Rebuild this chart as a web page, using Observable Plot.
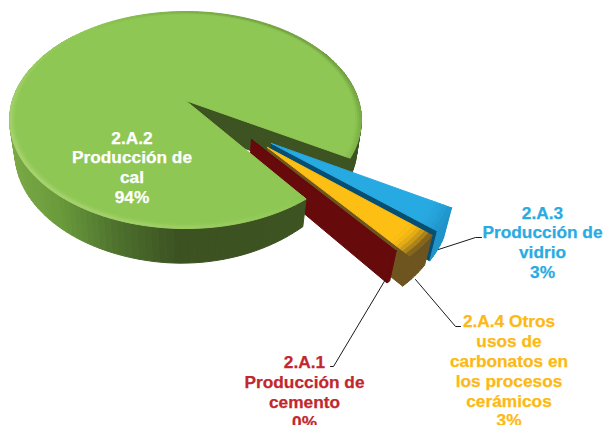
<!DOCTYPE html>
<html><head><meta charset="utf-8">
<style>html,body{margin:0;padding:0;background:#fff}svg{display:block}</style>
<script src="https://cdn.jsdelivr.net/npm/d3@7"></script>
<script src="https://cdn.jsdelivr.net/npm/@observablehq/plot@0.6"></script>
</head><body><div id="chart"></div>
<script>
// Data
const categories = ["2.A.3 Producción de vidrio", "2.A.4 Otros usos", "2.A.1 Producción de cemento", "2.A.2 Producción de cal"];
const shares = [3.1, 3.1, 0.3, 93.5];
const labelTexts = ["2.A.3\nProducción de\nvidrio\n3%", "2.A.4 Otros\nusos de\ncarbonatos en\nlos procesos\ncerámicos\n3%", "2.A.1\nProducción de\ncemento\n0%", "2.A.2\nProducción de\ncal\n94%"];
const labelColors = ["#29abe2", "#fdb913", "#c1272d", "#ffffff"];
// Styles and layout
const topColors = ["#27a9e1", "#fdbf13", "#660a0c", "#8ec753"];
const wallColors = ["#1f93c9", "#6e5520", "#660a0c", "#3d5322"];
const faceColors = ["#064e72", "#6e5520", "#660a0c", "#3d5322"];
const explode = [[0.463, 0.381], [0.439, 0.414], [0.357, 0.348], [0, 0]];
const sliceRadius = [0.965, 0.955, 1, 1];
const labelX = [542, 508.5, 304, 131.5];
const labelY = [241.5, 370, 391, 166.5];
const leaderX = [[438, 475, 481], [415, 455, 460], [385, 333, 330]];
const leaderY = [[249, 237, 237], [279, 326, 326], [279, 366, 366]];
const startAngle = 30;
const sliceDepth = 0.85;

// Perspective view of the pie disc
const x0 = 185, y0 = 100, a = 173, b = 105, c = 33.5, k = 0.18, m = 0.03;
const rad = Math.PI / 180;
let rimR = 1;
function proj(u, v, z) {
  const w = 1 - k * v + m * z;
  return {x: x0 + a * u / w, y: y0 + (b * v + c * z) / w};
}
function rim(o, ang, r, z) {
  return proj(o[0] + rimR * r * Math.cos(ang * rad), o[1] + rimR * r * Math.sin(ang * rad), z);
}
const rows = [];
let pid = 0;
function poly(pts, col) {
  const id = pid++;
  for (const p of [...pts, pts[0]]) rows.push({id, x: p.x, y: p.y, c: col});
}
function sweep(a0, a1, step) {
  const n = Math.max(1, Math.ceil(Math.abs(a1 - a0) / step));
  return d3.range(n + 1).map(i => a0 + (a1 - a0) * i / n);
}
function wall(o, a0, a1, colorFn, depth) {
  const A = sweep(a0, a1, 2);
  for (let i = 0; i < A.length - 1; i++) {
    const p = rim(o, A[i], 1, 0), q = rim(o, A[i + 1], 1, 0);
    poly([p, q, rim(o, A[i + 1], 1, depth(A[i + 1])), rim(o, A[i], 1, depth(A[i]))], colorFn(p.x, A[i]));
  }
}
function face(o, ang, col, z) {
  poly([proj(o[0], o[1], 0), rim(o, ang, 1, 0), rim(o, ang, 1, z), proj(o[0], o[1], z)], col);
}
function topFace(o, a0, a1, col, inner) {
  poly([proj(o[0], o[1], 0), ...sweep(a0, a1, 1.5).map(t => rim(o, t, inner, 0))], col);
}
function bevel(o, a0, a1, r0, r1, layers, colorFn) {
  const A = sweep(a0, a1, 2);
  for (let l = 0; l < layers; l++) {
    const ra = r0 + (r1 - r0) * l / layers, rb = r0 + (r1 - r0) * (l + 1) / layers;
    for (let i = 0; i < A.length - 1; i++) {
      poly([rim(o, A[i], ra, 0), rim(o, A[i + 1], ra, 0), rim(o, A[i + 1], rb, 0), rim(o, A[i], rb, 0)],
        colorFn((l + 0.5) / layers, A[i]));
    }
  }
}
// slice angles from the shares
const total = d3.sum(shares);
let cum = startAngle;
const angles = shares.map(s => { const a0 = cum; cum += s / total * 360; return [a0, cum]; });

const greenWall = d3.scaleLinear().domain([10, 60, 120, 180, 360]).range(["#7aa845", "#699a3b", "#4d702d", "#3c5221", "#3d5322"]);
const GI = 3;
// front wall tapers a little towards the cut
const greenDepth = ang => {
  const t = Math.max(0, Math.min(1, (100 - ang) / 46));
  return 1 - 0.2 * t * t;
};
// right-hand green wall and the cut face behind the exploded slices
wall([0, 0], angles[GI][1] - 60, angles[GI][1], x => greenWall(x), () => 0.8);
face([0, 0], angles[GI][1], faceColors[GI], 0.8);
// exploded slices
for (const i of [0, 1, 2]) {
  const o = explode[i], [a0, a1] = angles[i];
  rimR = sliceRadius[i];
  face(o, a1, faceColors[i], sliceDepth);
  wall(o, a0, a1, () => wallColors[i], () => sliceDepth);
  if (i !== 2) {
    topFace(o, a0, a1, topColors[i], 0.88);
    const mix = d3.interpolateRgb(topColors[i], wallColors[i]);
    bevel(o, a0, a1, 0.88, 1, 6, t => mix(t * t));
  } else {
    topFace(o, a0, a1, topColors[i], 1);
  }
}
rimR = sliceRadius[GI];
// green body in front
wall([0, 0], angles[GI][0], angles[GI][0] + 170, x => greenWall(x), greenDepth);
topFace([0, 0], angles[GI][0], angles[GI][1], topColors[GI], 0.97);
const lightRim = d3.interpolateRgb(topColors[GI], "#a9d472");
const darkRim = d3.interpolateRgb(topColors[GI], "#6f9c3e");
bevel([0, 0], angles[GI][0], angles[GI][1], 0.97, 1, 3, (t, ang) => {
  const s = Math.cos((ang - 140) * rad); // facing the light: lower left
  return s > 0 ? lightRim(t * s) : darkRim(t * -s);
});

const leaders = leaderX.flatMap((xs, i) => xs.map((x, j) => ({i, x, y: leaderY[i][j]})));
const labels = labelTexts.map((text, i) => ({text, x: labelX[i], y: labelY[i], fill: labelColors[i]}));

const chart = Plot.plot({
  width: 603, height: 425, margin: 0,
  x: {domain: [0, 603], range: [0, 603], axis: null},
  y: {domain: [0, 425], range: [0, 425], axis: null},
  color: {type: "identity"},
  marks: [
    Plot.line(rows, {x: "x", y: "y", z: "id", fill: "c", stroke: "c", strokeWidth: 1}),
    Plot.line(leaders, {x: "x", y: "y", z: "i", stroke: "#1a1a1a", strokeWidth: 1}),
    Plot.text(labels, {x: "x", y: "y", text: "text", fill: "fill", stroke: "fill", strokeWidth: 0.25, fontSize: 17.3, fontWeight: 700,
      fontFamily: "Liberation Sans, Arial, sans-serif", lineHeight: 1.145, textAnchor: "middle"})
  ]
});
chart.style.background = "#fff";
document.getElementById("chart").append(chart);
</script></body></html>
